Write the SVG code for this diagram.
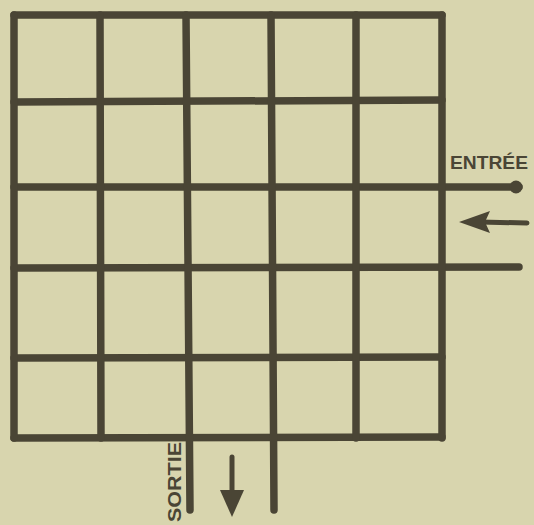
<svg xmlns="http://www.w3.org/2000/svg" width="534" height="525" viewBox="0 0 534 525">
<style>
.ln{stroke:#4a4535;stroke-width:7.5;stroke-linecap:round;fill:none}
.ar{stroke:#4a4535;stroke-width:5;stroke-linecap:round;fill:none}
.hd{fill:#4a4535}
.lb{font-family:"Liberation Sans",Arial,sans-serif;font-weight:bold;fill:#4a4535}
</style>
<rect width="534" height="525" fill="#d8d5ae"/>
<g id="grid">
<line class="ln" x1="14" y1="15" x2="442" y2="15"/>
<line class="ln" x1="14" y1="102" x2="442" y2="100"/>
<line class="ln" x1="14" y1="187" x2="519" y2="187"/>
<line class="ln" x1="14" y1="268" x2="519" y2="267"/>
<line class="ln" x1="14" y1="358" x2="442" y2="357"/>
<line class="ln" x1="14" y1="438" x2="442" y2="437"/>
<line class="ln" x1="14" y1="15" x2="14" y2="438"/>
<line class="ln" x1="100" y1="15" x2="101" y2="438"/>
<line class="ln" x1="186" y1="15" x2="190" y2="510"/>
<line class="ln" x1="271" y1="15" x2="274" y2="510"/>
<line class="ln" x1="356" y1="15" x2="356" y2="438"/>
<line class="ln" x1="442" y1="15" x2="442" y2="438"/>
<circle class="hd" cx="516" cy="187" r="6.5"/>
</g>
<g id="entree">
<text class="lb" x="450" y="169" font-size="18" textLength="78" lengthAdjust="spacingAndGlyphs">ENTRÉE</text>
</g>
<g id="sortie">
<text class="lb" transform="translate(181,522) rotate(-90)" font-size="18" textLength="80" lengthAdjust="spacingAndGlyphs">SORTIE</text>
</g>
<g id="connectors">
<line class="ar" x1="527" y1="223" x2="480" y2="222"/>
<polygon class="hd" points="459,222 490,211 485,222 490,233"/>
<line class="ar" x1="232" y1="457" x2="232" y2="495"/>
<polygon class="hd" points="220,490 244,490 232,517"/>
</g>
</svg>
